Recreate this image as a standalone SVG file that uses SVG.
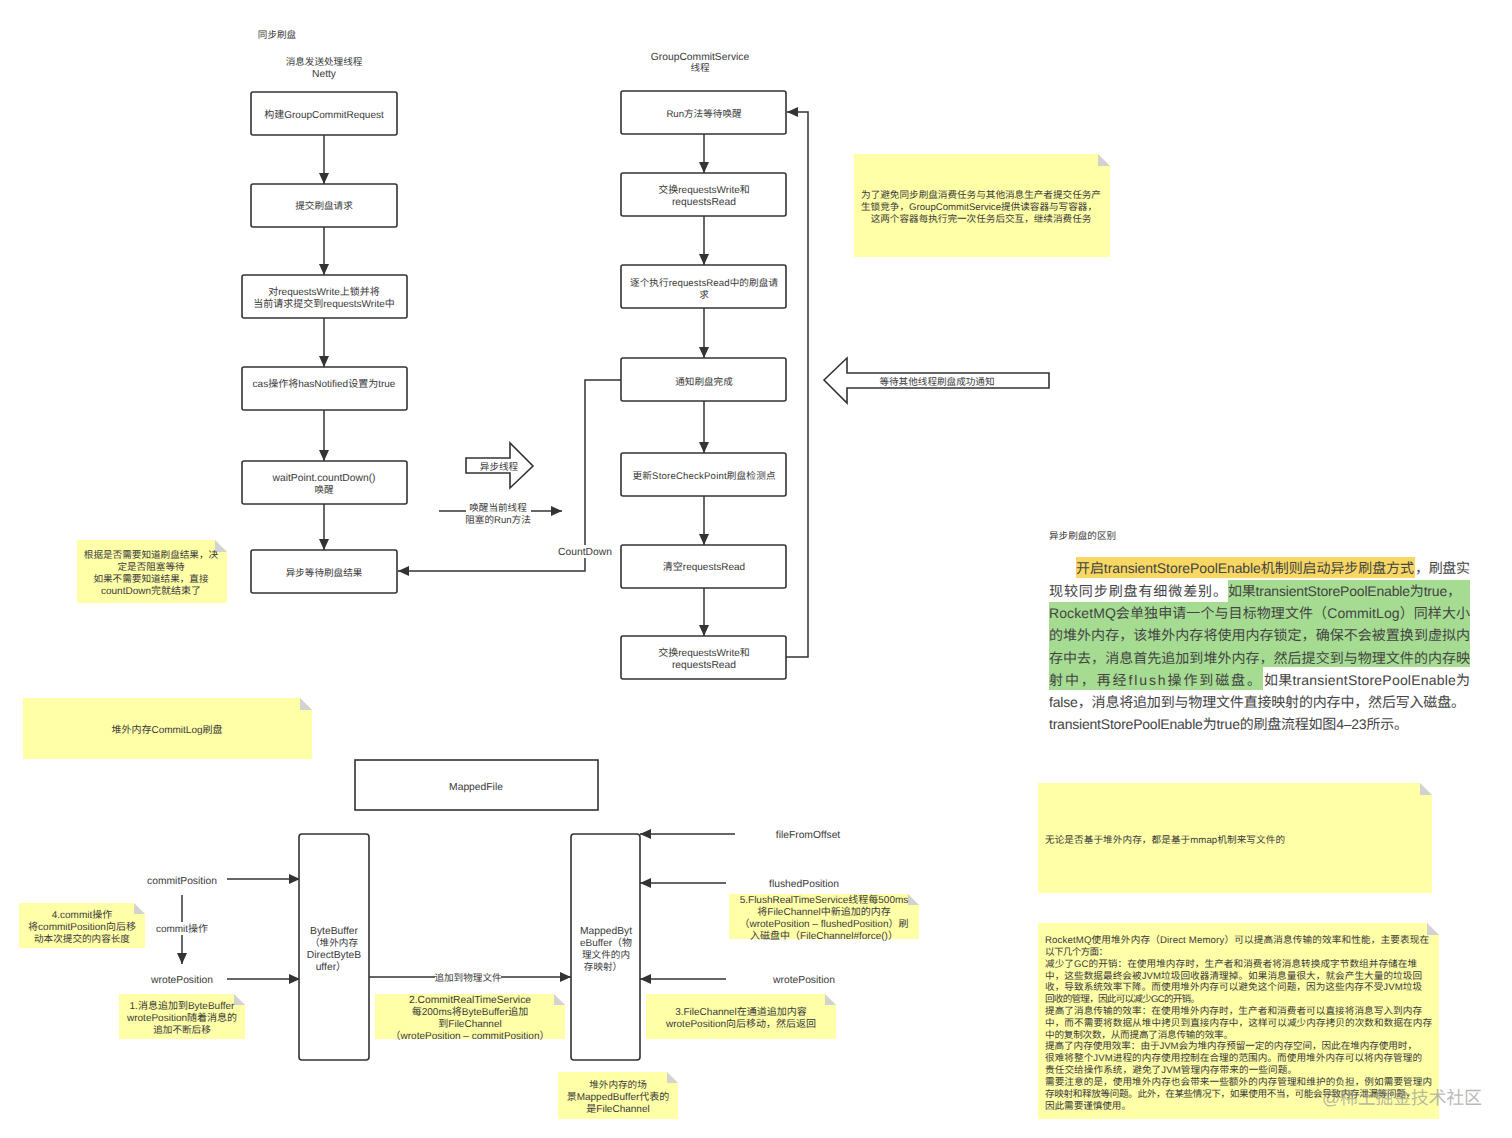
<svg xmlns="http://www.w3.org/2000/svg" width="1512" height="1138" viewBox="0 0 1512 1138">
<defs>
<marker id="a" markerUnits="userSpaceOnUse" markerWidth="12" markerHeight="10" refX="11" refY="5" orient="auto"><path d="M0 0L11 5L0 10Z" fill="#333"/></marker>
</defs>
<style>
text{font-family:"Liberation Sans","Noto Sans CJK SC",sans-serif;font-size:9.6px;fill:#3a3a3a;text-rendering:geometricPrecision}
text.m{font-size:10px}
text.l{font-size:10.3px}
.c{text-anchor:middle}
.box{fill:#fff;stroke:#333;stroke-width:1.6}
.note{fill:#ffffa8}
.fold{fill:#d2d2d2}
.conn{fill:none;stroke:#333;stroke-width:1.5}
.arr{marker-end:url(#a)}
.lb{fill:#fff}
text.big{font-size:14px;fill:#444}
</style>
<rect width="1512" height="1138" fill="#fff"/>

<g id="titles">
<text x="277" y="38" class="c">同步刷盘</text>
<text x="324" y="65" class="c">消息发送处理线程</text>
<text x="324" y="77" class="c l">Netty</text>
<text x="700" y="60" class="c l">GroupCommitService</text>
<text x="700" y="71" class="c">线程</text>
<text x="1049" y="539">异步刷盘的区别</text>
</g>

<g id="connectors">
<path class="conn arr" d="M324 135V184"/>
<path class="conn arr" d="M324 227V275"/>
<path class="conn arr" d="M324 318V367"/>
<path class="conn arr" d="M324 410V461"/>
<path class="conn arr" d="M324 504V550"/>
<path class="conn arr" d="M704 134V173"/>
<path class="conn arr" d="M704 216V265"/>
<path class="conn arr" d="M704 308V358"/>
<path class="conn arr" d="M704 401V453"/>
<path class="conn arr" d="M704 496V545"/>
<path class="conn arr" d="M704 588V636"/>
<path class="conn arr" d="M786 657H808V112H787"/>
<path class="conn arr" d="M621 380H585V571H398"/>
<path class="conn arr" d="M439 511H562"/>
<path class="conn arr" d="M227 879H300"/>
<path class="conn arr" d="M227 979H300"/>
<path class="conn arr" d="M182 895V964"/>
<path class="conn arr" d="M369 977H571"/>
<path class="conn arr" d="M735 834H640"/>
<path class="conn arr" d="M726 883H640"/>
<path class="conn arr" d="M726 979H640"/>
<rect class="lb" x="558" y="545" width="54" height="13"/>
<text x="585" y="555" class="c l">CountDown</text>
<rect class="lb" x="466" y="500" width="65" height="25"/>
<text x="498" y="511" class="c">唤醒当前线程</text>
<text x="498" y="523" class="c">阻塞的Run方法</text>
<rect class="lb" x="155" y="922" width="54" height="13"/>
<text x="182" y="932" class="c m">commit操作</text>
<rect class="lb" x="435" y="971" width="66" height="12"/>
<text x="468" y="981" class="c">追加到物理文件</text>
</g>

<g id="n1"><rect class="box" x="251" y="92" width="146" height="43" rx="2"/><text x="324" y="118" class="c m">构建GroupCommitRequest</text></g>
<g id="n2"><rect class="box" x="251" y="184" width="146" height="43" rx="2"/><text x="324" y="209" class="c">提交刷盘请求</text></g>
<g id="n3"><rect class="box" x="242" y="275" width="165" height="43" rx="2"/><text x="324" y="295" class="c m">对requestsWrite上锁并将</text><text x="324" y="307" class="c m">当前请求提交到requestsWrite中</text></g>
<g id="n4"><rect class="box" x="242" y="367" width="165" height="43" rx="2"/><text x="324" y="387" class="c m">cas操作将hasNotified设置为true</text></g>
<g id="n5"><rect class="box" x="242" y="461" width="165" height="43" rx="2"/><text x="324" y="481" class="c l">waitPoint.countDown()</text><text x="324" y="493" class="c">唤醒</text></g>
<g id="n6"><rect class="box" x="251" y="550" width="146" height="43" rx="2"/><text x="324" y="576" class="c">异步等待刷盘结果</text></g>

<g id="r1"><rect class="box" x="621" y="91" width="165" height="43" rx="2"/><text x="704" y="117" class="c">Run方法等待唤醒</text></g>
<g id="r2"><rect class="box" x="621" y="173" width="165" height="43" rx="2"/><text x="704" y="193" class="c m">交换requestsWrite和</text><text x="704" y="205" class="c l">requestsRead</text></g>
<g id="r3"><rect class="box" x="621" y="265" width="165" height="43" rx="2"/><text x="704" y="286" class="c" textLength="148">逐个执行requestsRead中的刷盘请</text><text x="704" y="298" class="c">求</text></g>
<g id="r4"><rect class="box" x="621" y="358" width="165" height="43" rx="2"/><text x="704" y="385" class="c">通知刷盘完成</text></g>
<g id="r5"><rect class="box" x="621" y="453" width="165" height="43" rx="2"/><text x="704" y="479" class="c" textLength="143">更新StoreCheckPoint刷盘检测点</text></g>
<g id="r6"><rect class="box" x="621" y="545" width="165" height="43" rx="2"/><text x="704" y="570" class="c m">清空requestsRead</text></g>
<g id="r7"><rect class="box" x="621" y="636" width="165" height="43" rx="2"/><text x="704" y="656" class="c m">交换requestsWrite和</text><text x="704" y="668" class="c l">requestsRead</text></g>

<g id="block-right"><path class="box" d="M466 458H510V443L533 466L510 488V473H466Z"/><text x="499" y="470" class="c">异步线程</text></g>
<g id="block-left"><path class="box" d="M824 380L847 358V373H1049V388H847V403Z"/><text x="937" y="385" class="c">等待其他线程刷盘成功通知</text></g>

<g id="note-a"><path class="note" d="M854 154H1098L1110 166V257H854Z"/><path class="fold" d="M1098 154L1110 166H1098Z"/>
<text x="981" y="198" class="c">为了避免同步刷盘消费任务与其他消息生产者提交任务产</text><text x="979" y="210" class="c" textLength="236">生锁竞争，GroupCommitService提供读容器与写容器，</text><text x="981" y="222" class="c">这两个容器每执行完一次任务后交互，继续消费任务</text></g>
<g id="note-b"><path class="note" d="M77 540H215L227 552V603H77Z"/><path class="fold" d="M215 540L227 552H215Z"/>
<text x="151" y="558" class="c">根据是否需要知道刷盘结果，决</text><text x="151" y="570" class="c">定是否阻塞等待</text><text x="151" y="582" class="c">如果不需要知道结果，直接</text><text x="151" y="594" class="c m">countDown完就结束了</text></g>
<g id="note-c"><path class="note" d="M23 698H300L312 710V759H23Z"/><path class="fold" d="M300 698L312 710H300Z"/>
<text x="167" y="733" class="c m">堆外内存CommitLog刷盘</text></g>
<g id="note-d"><path class="note" d="M1038 783H1420L1432 795V893H1038Z"/><path class="fold" d="M1420 783L1432 795H1420Z"/>
<text x="1045" y="843" textLength="240">无论是否基于堆外内存，都是基于mmap机制来写文件的</text></g>
<g id="note-e"><path class="note" d="M1038 923H1427L1439 935V1119H1038Z"/><path class="fold" d="M1427 923L1439 935H1427Z"/>
<text x="1045" y="943" textLength="384">RocketMQ使用堆外内存（Direct Memory）可以提高消息传输的效率和性能，主要表现在</text>
<text x="1045" y="955" textLength="63">以下几个方面：</text>
<text x="1045" y="967" textLength="372">减少了GC的开销：在使用堆内存时，生产者和消费者将消息转换成字节数组并存储在堆</text>
<text x="1045" y="979" textLength="377">中，这些数据最终会被JVM垃圾回收器清理掉。如果消息量很大，就会产生大量的垃圾回</text>
<text x="1045" y="990" textLength="377">收，导致系统效率下降。而使用堆外内存可以避免这个问题，因为这些内存不受JVM垃圾</text>
<text x="1045" y="1002" textLength="155">回收的管理，因此可以减少GC的开销。</text>
<text x="1045" y="1014" textLength="377">提高了消息传输的效率：在使用堆外内存时，生产者和消费者可以直接将消息写入到内存</text>
<text x="1045" y="1026" textLength="387">中，而不需要将数据从堆中拷贝到直接内存中，这样可以减少内存拷贝的次数和数据在内存</text>
<text x="1045" y="1038" textLength="188">中的复制次数，从而提高了消息传输的效率。</text>
<text x="1045" y="1049" textLength="372">提高了内存使用效率：由于JVM会为堆内存预留一定的内存空间，因此在堆内存使用时，</text>
<text x="1045" y="1061" textLength="377">很难将整个JVM进程的内存使用控制在合理的范围内。而使用堆外内存可以将内存管理的</text>
<text x="1045" y="1073" textLength="252">责任交给操作系统，避免了JVM管理内存带来的一些问题。</text>
<text x="1045" y="1085" textLength="387">需要注意的是，使用堆外内存也会带来一些额外的内存管理和维护的负担，例如需要管理内</text>
<text x="1045" y="1097" textLength="370">存映射和释放等问题。此外，在某些情况下，如果使用不当，可能会导致内存泄漏等问题，</text>
<text x="1045" y="1109" textLength="86">因此需要谨慎使用。</text></g>

<g id="mapped-file"><rect class="box" x="355" y="760" width="243" height="50"/><text x="476" y="790" class="c l">MappedFile</text></g>
<g id="byte-buffer"><rect class="box" x="299" y="834" width="70" height="226" rx="3"/>
<text x="334" y="934" class="c l">ByteBuffer</text><text x="334" y="946" class="c">（堆外内存</text><text x="334" y="958" class="c l">DirectByteB</text><text x="331" y="970" class="c l">uffer）</text></g>
<g id="mapped-byte-buffer"><rect class="box" x="571" y="834" width="69" height="226" rx="3"/>
<text x="606" y="934" class="c l">MappedByt</text><text x="606" y="946" class="c m">eBuffer（物</text><text x="606" y="958" class="c">理文件的内</text><text x="603" y="970" class="c">存映射）</text></g>

<g id="l1"><text x="182" y="884" class="c l">commitPosition</text></g>
<g id="l2"><text x="182" y="983" class="c l">wrotePosition</text></g>
<g id="l3"><text x="808" y="838" class="c l">fileFromOffset</text></g>
<g id="l4"><text x="804" y="887" class="c l">flushedPosition</text></g>
<g id="l5"><text x="804" y="983" class="c l">wrotePosition</text></g>

<g id="note-4"><path class="note" d="M19 903H134L145 914V948H19Z"/><path class="fold" d="M134 903L145 914H134Z"/>
<text x="82" y="918" class="c m">4.commit操作</text><text x="82" y="930" class="c m">将commitPosition向后移</text><text x="82" y="942" class="c">动本次提交的内容长度</text></g>
<g id="note-1"><path class="note" d="M119 994H234L245 1005V1039H119Z"/><path class="fold" d="M234 994L245 1005H234Z"/>
<text x="182" y="1009" class="c m">1.消息追加到ByteBuffer</text><text x="182" y="1021" class="c m">wrotePosition随着消息的</text><text x="182" y="1033" class="c">追加不断后移</text></g>
<g id="note-2"><path class="note" d="M375 994H554L565 1005V1039H375Z"/><path class="fold" d="M554 994L565 1005H554Z"/>
<text x="470" y="1003" class="c l">2.CommitRealTimeService</text><text x="470" y="1015" class="c m">每200ms将ByteBuffer追加</text><text x="470" y="1027" class="c m">到FileChannel</text><text x="470" y="1039" class="c m">（wrotePosition – commitPosition）</text></g>
<g id="note-3"><path class="note" d="M646 994H825L836 1005V1039H646Z"/><path class="fold" d="M825 994L836 1005H825Z"/>
<text x="741" y="1015" class="c m">3.FileChannel在通道追加内容</text><text x="741" y="1027" class="c m">wrotePosition向后移动，然后返回</text></g>
<g id="note-5"><path class="note" d="M729 894H908L919 905V939H729Z"/><path class="fold" d="M908 894L919 905H908Z"/>
<text x="824" y="903" class="c m">5.FlushRealTimeService线程每500ms</text><text x="824" y="915" class="c m">将FileChannel中新追加的内存</text><text x="824" y="927" class="c m">（wrotePosition – flushedPosition）刷</text><text x="824" y="939" class="c m">入磁盘中（FileChannel#force()）</text></g>
<g id="note-6"><path class="note" d="M558 1072H667L678 1083V1119H558Z"/><path class="fold" d="M667 1072L678 1083H667Z"/>
<text x="618" y="1088" class="c">堆外内存的场</text><text x="618" y="1100" class="c m">景MappedBuffer代表的</text><text x="618" y="1112" class="c m">是FileChannel</text></g>

<g id="excerpt">
<rect x="1076" y="557" width="339" height="21" fill="#f8d863"/>
<rect x="1228" y="580" width="242" height="22" fill="#a6dc92"/>
<rect x="1049" y="602" width="421" height="65" fill="#a6dc92"/>
<rect x="1049" y="667" width="214" height="23" fill="#a6dc92"/>
<text class="big" x="1076" y="573" textLength="338">开启transientStorePoolEnable机制则启动异步刷盘方式</text>
<text class="big" x="1415" y="573" textLength="55">，刷盘实</text>
<text class="big" x="1049" y="596" textLength="178">现较同步刷盘有细微差别。</text>
<text class="big" x="1228" y="596" textLength="233">如果transientStorePoolEnable为true，</text>
<text class="big" x="1049" y="618" textLength="421">RocketMQ会单独申请一个与目标物理文件（CommitLog）同样大小</text>
<text class="big" x="1049" y="640" textLength="421">的堆外内存，该堆外内存将使用内存锁定，确保不会被置换到虚拟内</text>
<text class="big" x="1049" y="663" textLength="421">存中去，消息首先追加到堆外内存，然后提交到与物理文件的内存映</text>
<text class="big" x="1049" y="685" textLength="212">射中，再经flush操作到磁盘。</text>
<text class="big" x="1264" y="685" textLength="206">如果transientStorePoolEnable为</text>
<text class="big" x="1049" y="707" textLength="416">false，消息将追加到与物理文件直接映射的内存中，然后写入磁盘。</text>
<text class="big" x="1049" y="729" textLength="359">transientStorePoolEnable为true的刷盘流程如图4–23所示。</text>
</g>

<text x="1322" y="1104" style="font-size:18px;fill:#8a8a8a;fill-opacity:.6" textLength="160">@稀土掘金技术社区</text>
</svg>
